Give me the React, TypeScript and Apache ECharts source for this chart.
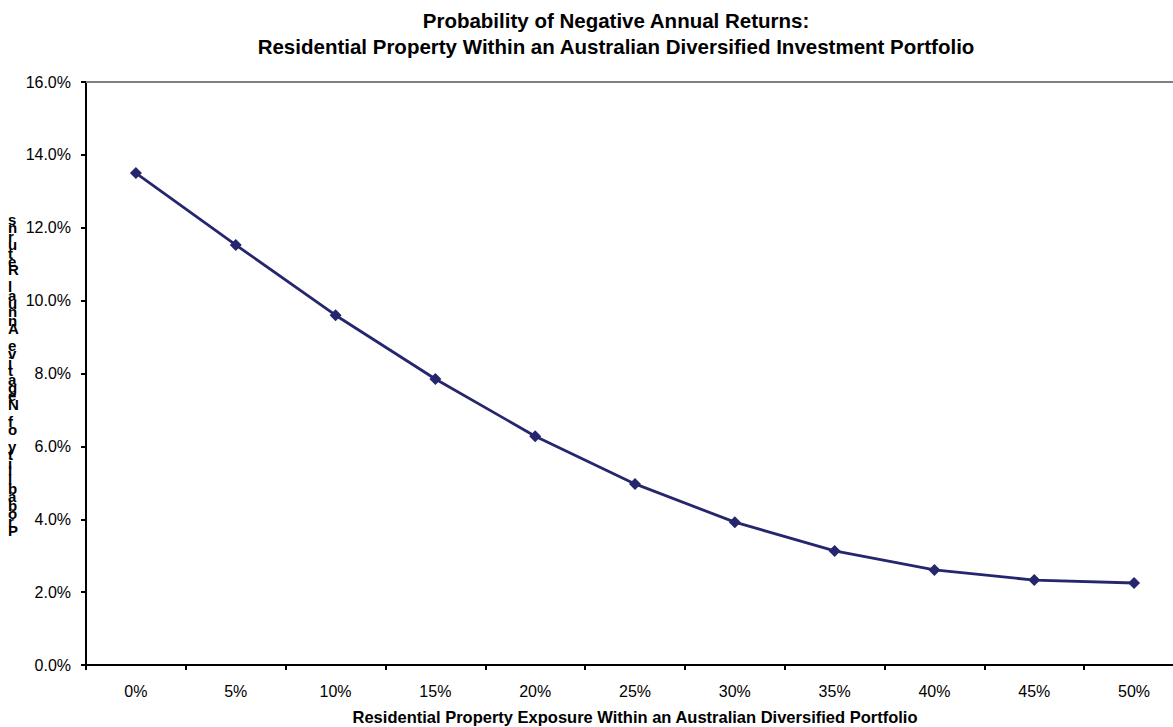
import React, { useEffect, useRef } from "react";
import * as echarts from "echarts";

const exposureLabels = ["0%", "5%", "10%", "15%", "20%", "25%", "30%", "35%", "40%", "45%", "50%"];
const negativeReturnProb = [13.5, 11.53, 9.6, 7.85, 6.28, 4.97, 3.92, 3.13, 2.61, 2.33, 2.25];

const titleLines = [
  "Probability of Negative Annual Returns:",
  "Residential Property Within an Australian Diversified Investment Portfolio",
];
const xAxisTitle = "Residential Property Exposure Within an Australian Diversified Portfolio";
const yAxisTitle = "Probability of Negative Annual Returns";

const FONT = "'Liberation Sans', Arial, sans-serif";

export default function App() {
  const ref = useRef<HTMLDivElement>(null);

  useEffect(() => {
    if (!ref.current) return;
    const chart = echarts.init(ref.current, undefined, { renderer: "svg" });
    // vertical title: characters stacked one per line, reading upward
    const stacked = yAxisTitle.split("").reverse().join("\n");
    chart.setOption({
      animation: false,
      backgroundColor: "#ffffff",
      textStyle: { fontFamily: FONT },
      title: {
        text: titleLines.join("\n"),
        left: 611,
        top: 2,
        textAlign: "center",
        textStyle: {
          fontFamily: FONT,
          fontSize: 20.5,
          fontWeight: "bold",
          color: "#000",
          lineHeight: 26,
        },
      },
      // plot area runs past the right edge of the page
      grid: {
        left: 86,
        top: 82,
        height: 583,
        width: 1098,
        containLabel: false,
        outerBoundsMode: "none",
      },
      xAxis: [
        {
          type: "category",
          data: exposureLabels,
          boundaryGap: true,
          axisLine: { lineStyle: { color: "#000", width: 2 } },
          axisTick: { show: true, length: 5, lineStyle: { color: "#000", width: 2 } },
          axisLabel: { color: "#000", fontSize: 16, fontFamily: FONT, margin: 18 },
          name: xAxisTitle,
          nameLocation: "middle",
          nameGap: 43,
          nameTextStyle: {
            fontFamily: FONT,
            fontSize: 16.5,
            fontWeight: "bold",
            color: "#000",
          },
          splitLine: { show: false },
        },
        {
          type: "category",
          position: "top",
          data: exposureLabels,
          axisLine: { lineStyle: { color: "#808080", width: 2 } },
          axisTick: { show: false },
          axisLabel: { show: false },
          splitLine: { show: false },
        },
      ],
      yAxis: {
        type: "value",
        min: 0,
        max: 16,
        interval: 2,
        axisLine: { show: true, lineStyle: { color: "#000", width: 2 } },
        axisTick: { show: true, length: 5, lineStyle: { color: "#000", width: 2 } },
        axisLabel: {
          color: "#000",
          fontSize: 16,
          fontFamily: FONT,
          margin: 15,
          formatter: (v: number) => v.toFixed(1) + "%",
        },
        splitLine: { show: false },
      },
      graphic: [
        {
          type: "text",
          left: 8,
          top: 212,
          style: {
            text: stacked,
            fontFamily: FONT,
            fontSize: 15,
            fontWeight: "bold",
            fill: "#000",
            lineHeight: 8.4,
            align: "center",
          },
        },
      ],
      series: [
        {
          type: "line",
          data: negativeReturnProb,
          symbol: "diamond",
          symbolSize: 12,
          lineStyle: { color: "#26266e", width: 2.8 },
          itemStyle: { color: "#26266e" },
        },
      ],
    });
    return () => chart.dispose();
  }, []);

  return <div ref={ref} style={{ width: 1173, height: 727, position: "absolute", left: 0, top: 0 }} />;
}
